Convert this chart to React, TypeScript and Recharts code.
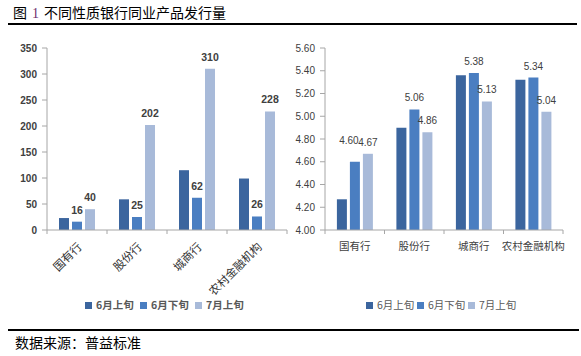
import React from 'react';
import { BarChart, Bar, XAxis, YAxis, Legend, LabelList } from 'recharts';

const categories = ['国有行', '股份行', '城商行', '农村金融机构'];
const seriesNames = ['6月上旬', '6月下旬', '7月上旬'];
const volumeJun1 = [23, 59, 115, 99];
const volumeJun2 = [16, 25, 62, 26];
const volumeJul1 = [40, 202, 310, 228];
const yieldJun1 = [4.27, 4.9, 5.36, 5.32];
const yieldJun2 = [4.6, 5.06, 5.38, 5.34];
const yieldJul1 = [4.67, 4.86, 5.13, 5.04];
const volumeTicks = [0, 50, 100, 150, 200, 250, 300, 350];
const yieldTicks = [4.0, 4.2, 4.4, 4.6, 4.8, 5.0, 5.2, 5.4, 5.6];

const COLORS = ['#3B659E', '#4A7EC1', '#A8BAD9'];
const AXIS = '#A6A6A6';
const CJK = '"Noto Sans CJK SC", sans-serif';
const NUM = '"Liberation Sans", Arial, sans-serif';

const volumeData = categories.map((c, i) => ({
  name: c,
  s0: volumeJun1[i],
  s1: volumeJun2[i],
  s2: volumeJul1[i],
}));
const yieldData = categories.map((c, i) => ({
  name: c,
  s0: yieldJun1[i],
  s1: yieldJun2[i],
  s2: yieldJul1[i],
}));

// nudge for a label that would collide with its neighbour (style only)
const yieldLabelNudge: Record<string, { dx: number; dy: number }> = {
  '国有行': { dx: -6, dy: -10 },
};

const boundaryMarks = (props: any) => {
  const { x, y, payload, index, visibleTicksCount } = props;
  const half = payload && payload.offset ? payload.offset : 0;
  const last = index === (visibleTicksCount ?? categories.length) - 1;
  return (
    <g>
      {half ? <line x1={x - half} x2={x - half} y1={y} y2={y + 4} stroke={AXIS} /> : null}
      {half && last ? <line x1={x + half} x2={x + half} y1={y} y2={y + 4} stroke={AXIS} /> : null}
    </g>
  );
};

const RotTick = (props: any) => {
  const { x, y, payload } = props;
  const tx = x + 2;
  const ty = y + 14;
  return (
    <g>
      {boundaryMarks(props)}
      <text
        x={tx}
        y={ty}
        transform={`rotate(-45, ${tx}, ${ty})`}
        textAnchor="end"
        dominantBaseline="central"
        fontSize={11.5}
        fontFamily={CJK}
        fill="#333"
      >
        {payload.value}
      </text>
    </g>
  );
};

const FlatTick = (props: any) => {
  const { x, y, payload } = props;
  return (
    <g>
      {boundaryMarks(props)}
      <text
        x={x}
        y={y + 15}
        textAnchor="middle"
        dominantBaseline="central"
        fontSize={10.5}
        fontFamily={CJK}
        fill="#404040"
      >
        {payload.value}
      </text>
    </g>
  );
};

const volumeLabel = (props: any) => {
  const { x, y, width, value } = props;
  return (
    <text
      x={x + width / 2}
      y={y - 8}
      textAnchor="middle"
      fontSize={10.5}
      fontWeight="bold"
      fontFamily={NUM}
      fill="#404040"
    >
      {value}
    </text>
  );
};

// value here is the whole data entry (LabelList dataKey returns the row)
const makeYieldLabel = (key: 's1' | 's2', useNudge: boolean) => (props: any) => {
  const { x, y, width, value } = props;
  const row = value || {};
  const n = (useNudge && yieldLabelNudge[row.name]) || { dx: 0, dy: 0 };
  return (
    <text
      x={x + width / 2 + n.dx}
      y={y - 8 + n.dy}
      textAnchor="middle"
      fontSize={10}
      fontFamily={NUM}
      fill="#404040"
    >
      {Number(row[key]).toFixed(2)}
    </text>
  );
};

const makeLegend = (spacing: number, bold: boolean) => (props: any) => {
  const { payload } = props;
  return (
    <div style={{ height: 16, display: 'flex', alignItems: 'center' }}>
      {(payload || []).map((p: any, i: number) => (
        <div
          key={i}
          style={{ width: spacing, display: 'flex', alignItems: 'center', flex: 'none' }}
        >
          <div style={{ width: 7, height: 7, background: p.color, marginRight: 4 }} />
          <span
            style={{
              fontSize: 10.5,
              fontFamily: CJK,
              fontWeight: bold ? 700 : 400,
              color: '#595959',
              lineHeight: '16px',
              whiteSpace: 'nowrap',
            }}
          >
            {p.value}
          </span>
        </div>
      ))}
    </div>
  );
};

export default function App() {
  return (
    <div
      style={{
        position: 'absolute',
        left: 0,
        top: 0,
        width: 581,
        height: 356,
        background: '#fff',
        overflow: 'hidden',
      }}
    >
      <div
        style={{
          position: 'absolute',
          left: 13,
          top: 4,
          fontSize: 14,
          lineHeight: '16px',
          fontFamily: CJK,
          color: '#000',
          whiteSpace: 'nowrap',
        }}
      >
        图<span style={{ display: 'inline-block', margin: '0 5px', color: '#6E2F6E', fontFamily: '"Liberation Serif", serif' }}>1</span>不同性质银行同业产品发行量
      </div>
      <div style={{ position: 'absolute', left: 8, top: 23, width: 569, height: 2, background: '#000' }} />

      <div style={{ position: 'absolute', left: 0, top: 30 }}>
        <BarChart
          width={290}
          height={300}
          data={volumeData}
          margin={{ top: 18, right: 3, left: 0, bottom: 17 }}
          barCategoryGap="20%"
          barGap={3}
        >
          <YAxis
            width={47}
            domain={[0, 350]}
            ticks={volumeTicks}
            interval={0}
            tickSize={5}
            tickMargin={5}
            axisLine={{ stroke: AXIS }}
            tickLine={{ stroke: AXIS }}
            tick={{ fontSize: 10, fontFamily: NUM, fontWeight: 'bold', fill: '#404040' }}
          />
          <XAxis
            dataKey="name"
            height={67}
            interval={0}
            tickSize={0}
            tickMargin={0}
            tickLine={false}
            axisLine={{ stroke: AXIS }}
            tick={RotTick}
          />
          <Legend
            verticalAlign="bottom"
            content={makeLegend(55, true)}
            wrapperStyle={{ left: 85, width: 170 }}
          />
          <Bar dataKey="s0" name={seriesNames[0]} fill={COLORS[0]} isAnimationActive={false} />
          <Bar dataKey="s1" name={seriesNames[1]} fill={COLORS[1]} isAnimationActive={false}>
            <LabelList dataKey="s1" content={volumeLabel} />
          </Bar>
          <Bar dataKey="s2" name={seriesNames[2]} fill={COLORS[2]} isAnimationActive={false}>
            <LabelList dataKey="s2" content={volumeLabel} />
          </Bar>
        </BarChart>
      </div>

      <div style={{ position: 'absolute', left: 290, top: 30 }}>
        <BarChart
          width={291}
          height={300}
          data={yieldData}
          margin={{ top: 18, right: 18, left: 0, bottom: 17 }}
          barCategoryGap="20%"
          barGap={3}
        >
          <YAxis
            width={35}
            domain={[4, 5.6]}
            ticks={yieldTicks}
            interval={0}
            tickSize={5}
            tickMargin={5}
            axisLine={{ stroke: AXIS }}
            tickLine={{ stroke: AXIS }}
            tickFormatter={(v: number) => v.toFixed(2)}
            tick={{ fontSize: 10, fontFamily: NUM, fill: '#404040' }}
          />
          <XAxis
            dataKey="name"
            height={67}
            interval={0}
            tickSize={0}
            tickMargin={0}
            tickLine={false}
            axisLine={{ stroke: AXIS }}
            tick={FlatTick}
          />
          <Legend
            verticalAlign="bottom"
            content={makeLegend(51, false)}
            wrapperStyle={{ left: 76, width: 160 }}
          />
          <Bar dataKey="s0" name={seriesNames[0]} fill={COLORS[0]} isAnimationActive={false} />
          <Bar dataKey="s1" name={seriesNames[1]} fill={COLORS[1]} isAnimationActive={false}>
            <LabelList dataKey={(d: any) => d} content={makeYieldLabel('s1', true)} />
          </Bar>
          <Bar dataKey="s2" name={seriesNames[2]} fill={COLORS[2]} isAnimationActive={false}>
            <LabelList dataKey={(d: any) => d} content={makeYieldLabel('s2', false)} />
          </Bar>
        </BarChart>
      </div>

      <div style={{ position: 'absolute', left: 8, top: 329, width: 571, height: 2, background: '#000' }} />
      <div
        style={{
          position: 'absolute',
          left: 15,
          top: 334,
          fontSize: 14,
          lineHeight: '16px',
          fontFamily: CJK,
          color: '#000',
          whiteSpace: 'nowrap',
        }}
      >
        数据来源：普益标准
      </div>
    </div>
  );
}
